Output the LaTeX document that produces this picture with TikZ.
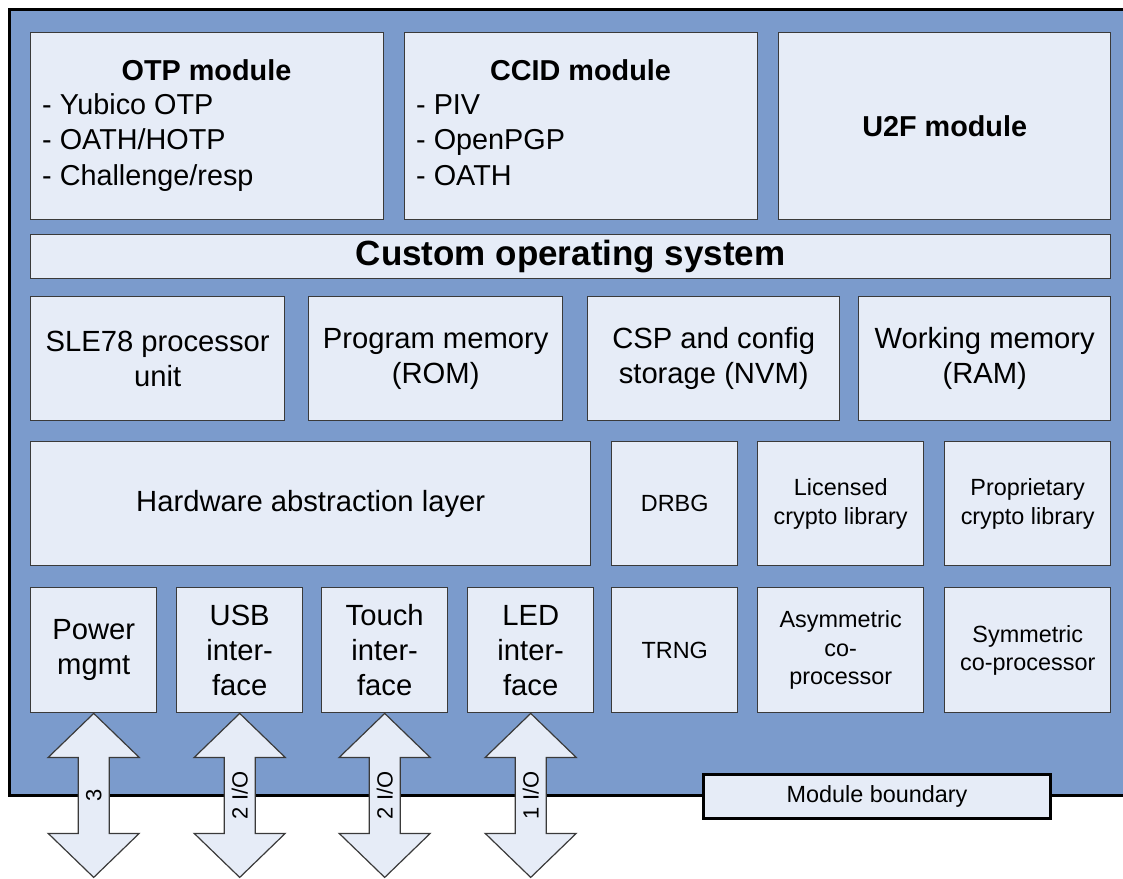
\documentclass[tikz,border=0pt]{standalone}
\usepackage{fontspec}
\setmainfont{Liberation Sans}
\definecolor{bgblue}{HTML}{7B9BCC}
\definecolor{boxfill}{HTML}{E6ECF7}
\definecolor{boxline}{HTML}{3A3A3A}
\tikzset{
  blk/.style={draw=boxline, fill=boxfill, line width=1.4pt, inner sep=0pt,
    align=center, anchor=north west, font=\fontsize{29.2}{35}\selectfont},
  smallblk/.style={blk, font=\fontsize{23.4}{28.5}\selectfont},
  titletext/.style={font=\fontsize{28.8}{35}\selectfont\bfseries, anchor=base, inner sep=0pt},
  listtext/.style={font=\fontsize{28.8}{35.5}\selectfont, align=left, anchor=base west, inner sep=0pt},
  arrowshape/.style={draw=boxline, fill=boxfill, line width=1.2pt, line join=miter},
  arrowlabel/.style={font=\fontsize{22}{26}\selectfont, inner sep=0pt, rotate=90},
  pics/ioarrow/.style={code={
    \draw[arrowshape] (0,0) -- (45.5,44) -- (15.5,44) -- (15.5,120) -- (45.5,120)
      -- (0,164) -- (-45.5,120) -- (-15.5,120) -- (-15.5,44) -- (-45.5,44) -- cycle;
    \node[arrowlabel] (lab) at (0,82) {#1};
  }}
}
\begin{document}
\begin{tikzpicture}[x=1pt,y=-1pt]
\useasboundingbox (0,0) rectangle (1123,878);
% module boundary area
\draw[line width=3pt, fill=bgblue] (9.5,9.5) rectangle (1140,795);

% row 1
\node[blk, minimum width=353pt, minimum height=187pt] (otp) at (30,32) {};
\node[titletext] (otptitle) at (206.5,80) {OTP module};
\node[listtext] (otplist) at (42,185) {- Yubico OTP\\- OATH/HOTP\\- Challenge/resp};
\node[blk, minimum width=353pt, minimum height=187pt] (ccid) at (404,32) {};
\node[titletext] (ccidtitle) at (580.5,80) {CCID module};
\node[listtext] (ccidlist) at (416,185) {- PIV\\- OpenPGP\\- OATH};
\node[blk, minimum width=332pt, minimum height=187pt, font=\fontsize{28.8}{35}\selectfont\bfseries] (u2f) at (778,32) {U2F module};

% row 2
\node[blk, minimum width=1080pt, minimum height=44pt, font=\fontsize{35}{40}\selectfont\bfseries] (os) at (30,234) {Custom operating system};

% row 3
\node[blk, minimum width=254pt, minimum height=124pt] (cpu) at (30,296) {SLE78 processor\\unit};
\node[blk, minimum width=254pt, minimum height=124pt] (rom) at (308,296) {Program memory\\(ROM)};
\node[blk, minimum width=252pt, minimum height=124pt] (nvm) at (587,296) {CSP and config\\storage (NVM)};
\node[blk, minimum width=252pt, minimum height=124pt] (ram) at (858,296) {Working memory\\(RAM)};

% row 4
\node[blk, minimum width=560pt, minimum height=124pt] (hal) at (30,441) {Hardware abstraction layer};
\node[smallblk, minimum width=126pt, minimum height=124pt] (drbg) at (611,441) {DRBG};
\node[smallblk, minimum width=166pt, minimum height=124pt] (lic) at (757,441) {Licensed\\crypto library};
\node[smallblk, minimum width=166pt, minimum height=124pt] (prop) at (944,441) {Proprietary\\crypto library};

% row 5
\node[blk, minimum width=126pt, minimum height=125pt] (pw) at (30,587) {Power\\mgmt};
\node[blk, minimum width=126pt, minimum height=125pt] (usb) at (176,587) {USB\\inter-\\face};
\node[blk, minimum width=126pt, minimum height=125pt] (touch) at (321,587) {Touch\\inter-\\face};
\node[blk, minimum width=126pt, minimum height=125pt] (led) at (467,587) {LED\\inter-\\face};
\node[smallblk, minimum width=126pt, minimum height=125pt] (trng) at (611,587) {TRNG};
\node[smallblk, minimum width=166pt, minimum height=125pt] (asym) at (757,587) {Asymmetric\\co-\\processor};
\node[smallblk, minimum width=166pt, minimum height=125pt] (sym) at (944,587) {Symmetric\\co-processor};

% I/O arrows
\pic (a1) at (pw.south) {ioarrow={3}};
\pic (a2) at (usb.south) {ioarrow={2 I/O}};
\pic (a3) at (touch.south) {ioarrow={2 I/O}};
\pic (a4) at (led.south) {ioarrow={1 I/O}};

% legend
\node[smallblk, draw=black, line width=3pt, minimum width=347pt, minimum height=44pt] (legend) at (702,773) {Module boundary};
\end{tikzpicture}
\end{document}
